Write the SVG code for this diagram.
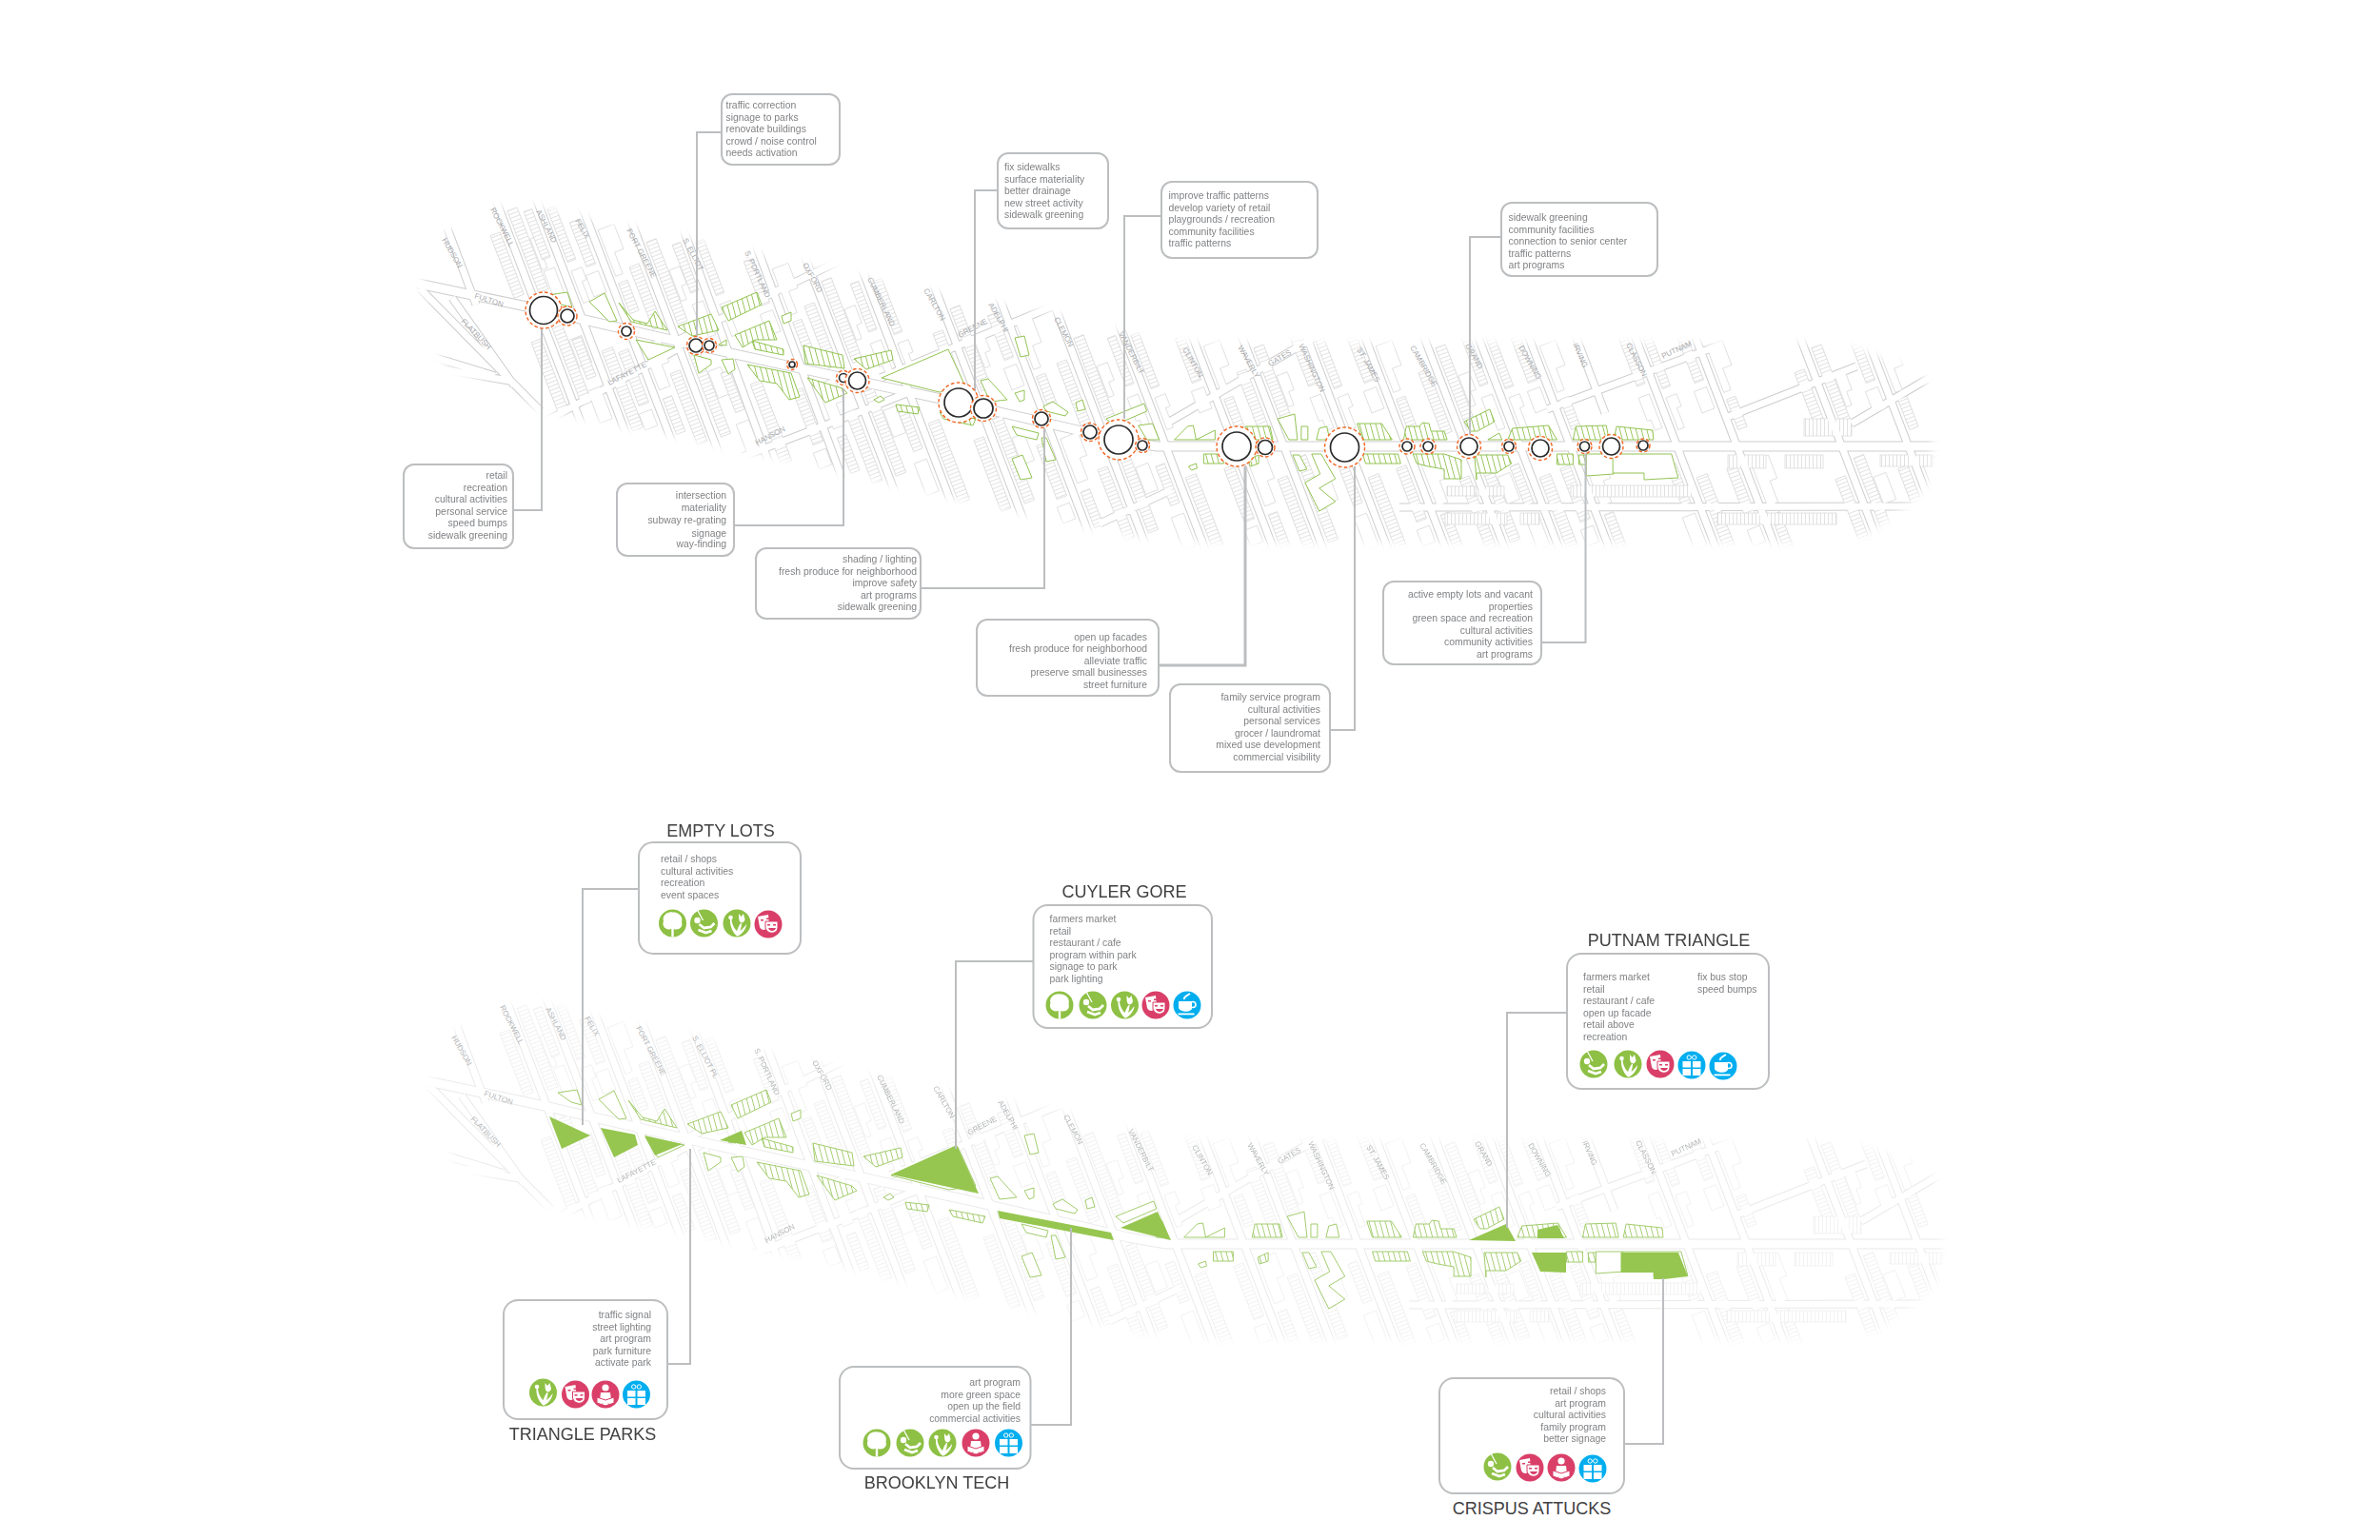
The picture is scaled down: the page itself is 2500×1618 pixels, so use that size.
<svg xmlns="http://www.w3.org/2000/svg" width="2500" height="1618" viewBox="0 0 2500 1618">
<style>
text{font-family:"Liberation Sans",Arial,sans-serif}
.t{font-size:10.4px;fill:#808285}
.e{text-anchor:end}
.h{font-size:18px;fill:#414042;text-anchor:middle}
.box{fill:#fff;stroke:#bcbec0;stroke-width:2}
.cn{fill:none;stroke:#bcbec0;stroke-width:2}
.ro{fill:#fff;stroke:#f26522;stroke-width:1.4;stroke-dasharray:3.6 2.4}
.ri{fill:#fff;stroke:#2b2b2b;stroke-width:1.7}
.sa{fill:none;stroke-linejoin:round;stroke-linecap:butt}
.gray1{stroke:#cdcdcd}.white1{stroke:#fff}
.rw{fill:url(#stripe);stroke:#d6d6d6;stroke-width:.7}
.rx{fill:url(#stripeV);stroke:#d6d6d6;stroke-width:.7}
.bl{fill:#fff;stroke:#d6d6d6;stroke-width:.7}
.gl{fill:#fff;stroke:#93c353;stroke-width:1}
.gs{fill:url(#gstripe);stroke:#93c353;stroke-width:1}
.gf{fill:#96c650;stroke:none}
.lb{font-size:8px;fill:#a7a9ac}
.lc{font-size:8px;fill:#b5b7b9}
.ig{fill:#8dc044}.ip{fill:#d93f68}.ib{fill:#00aeef}.w{fill:#fff}
</style>
<defs>
<pattern id="stripe" patternUnits="userSpaceOnUse" width="10" height="4"><rect width="10" height="4" fill="#fff"/><path d="M0 0H10" stroke="#d6d6d6" stroke-width="1.400"/></pattern>
<pattern id="stripeV" patternUnits="userSpaceOnUse" width="4" height="10"><rect width="4" height="10" fill="#fff"/><path d="M0 0V10" stroke="#d6d6d6" stroke-width="1.400"/></pattern>
<pattern id="gstripe" patternUnits="userSpaceOnUse" width="5.500" height="10" patternTransform="rotate(-15)"><rect width="5.500" height="10" fill="#fff"/><path d="M0 0V10" stroke="#93c353" stroke-width="1.800"/></pattern>
<filter id="soft" x="-5%" y="-10%" width="110%" height="120%"><feGaussianBlur stdDeviation="4"/></filter>
<mask id="leaf" maskUnits="userSpaceOnUse" x="400" y="180" width="1700" height="420"><polygon fill="#fff" filter="url(#soft)" points="441,303 466,243 517,218 563,215 645,235 716,248 767,260 859,280 961,302 1114,330 1150,342 1242,360 1929,360 2015,387 2030,417 2030,500 2010,527 1958,563 1900,570 1236,570 1156,557 1073,540 941,510 859,490 716,460 645,447 568,430 533,417 466,380"/></mask>
<g id="su1" transform="rotate(-21)">
<rect class="rw" x="7" y="-108" width="11" height="92"/><rect class="rw" x="-19" y="-90" width="11" height="70"/><rect class="rw" x="7" y="16" width="11" height="95"/><rect class="rw" x="-19" y="30" width="11" height="80"/>
<path class="bl" d="M19 -72h12v20h-6v15h-6z"/><path class="bl" d="M19 42h14v30h-14z"/>
</g>
<g id="su2" transform="rotate(-21)">
<rect class="rw" x="7" y="-122" width="9" height="60"/><rect class="rw" x="-17" y="-128" width="9" height="54"/><path class="bl" d="M-20 -62h12v38h-8v-12h-4z"/><path class="bl" d="M7 -52h12v14h-5v22h-7z"/>
<rect class="rw" x="7" y="38" width="12" height="90"/><rect class="rw" x="-18" y="16" width="10" height="44"/><path class="bl" d="M-22 72h14v36h-14z"/>
</g>
<g id="su3" transform="rotate(-21)">
<path class="bl" d="M7 -110h18v28h-10v24h-8z"/><path class="bl" d="M-22 -70h14v24h-14z"/><rect class="rw" x="-18" y="-128" width="10" height="50"/><rect class="rw" x="7" y="-50" width="10" height="34"/>
<path class="bl" d="M7 20h20v26h-8v24h-12z"/><rect class="rw" x="-19" y="18" width="11" height="60"/><rect class="rw" x="7" y="80" width="10" height="40"/><path class="bl" d="M-22 86h14v18h-14z"/>
</g>
<path id="fulton" d="M430 296L553 322L731 363L900 400L1007 423L1175 462L1215 469L2040 469"/>
<path id="streets" d="M517 200L662 580M560 200L705 580M605 200L750 580M651 200L794 580M703 200L842 580M773 200L913 580M819 200L964 580M874 200L1019 580M943 200L1088 580M1007 200L1151 580M1062 200L1206 580M1122 200L1267 580M1194 200L1339 580M1246 200L1391 580M1314 200L1459 580M1375 200L1520 580M1437 200L1582 580M1494 200L1639 580M1547 200L1692 580M1597 200L1686 434M1659 200L1804 580M1722 200L1867 580M1832 200L1977 580M1902 200L2047 580M560 450L711 367M711 358L815 306L880 275M925 397L1110 320L1180 290M780 480L910 430L955 412M1155 550L1230 515M1225 445L1385 352M1625 430L1800 365M1810 440L1950 385M1945 445L2030 395M1470 533L2010 532M441 303L568 432M475 313L540 405M470 240L500 320M455 375L520 395M464 388L535 400"/>
<g id="base" mask="url(#leaf)">
<use href="#streets" class="sa gray1" stroke-width="9"/>
<use href="#fulton" class="sa gray1" stroke-width="11"/>
<use href="#su1" transform="translate(565 325)"/><use href="#su2" transform="translate(612 336)"/><use href="#su3" transform="translate(661 347)"/><use href="#su1" transform="translate(711 358)"/><use href="#su2" transform="translate(768 371)"/><use href="#su3" transform="translate(844 388)"/><use href="#su1" transform="translate(895 399)"/><use href="#su2" transform="translate(955 412)"/><use href="#su1" transform="translate(1030 428)"/><use href="#su3" transform="translate(1100 445)"/><use href="#su1" transform="translate(1160 459)"/><use href="#su2" transform="translate(1225 469)"/><use href="#su3" transform="translate(1297 469)"/><use href="#su1" transform="translate(1349 469)"/><use href="#su2" transform="translate(1417 469)"/><use href="#su3" transform="translate(1478 469)"/><use href="#su1" transform="translate(1540 469)"/><use href="#su2" transform="translate(1597 469)"/><use href="#su3" transform="translate(1650 469)"/><use href="#su2" transform="translate(1762 469)"/><use href="#su3" transform="translate(1825 469)"/><use href="#su1" transform="translate(1935 469)"/><use href="#su3" transform="translate(2005 469)"/>
<rect class="rx" x="1520" y="511" width="30" height="10"/><rect class="rx" x="1553" y="511" width="27" height="10"/><rect class="rx" x="1518" y="539" width="65" height="12"/><rect class="rx" x="1597" y="539" width="20" height="12"/><rect class="rx" x="1804" y="539" width="125" height="12"/><rect class="rx" x="1650" y="510" width="130" height="12"/><rect class="rx" x="1815" y="478" width="40" height="14"/><rect class="rx" x="1875" y="478" width="40" height="14"/><rect class="rx" x="1975" y="478" width="55" height="12"/><rect class="rx" x="1895" y="440" width="50" height="18"/>
<use href="#streets" class="sa white1" stroke-width="7"/>
<use href="#fulton" class="sa white1" stroke-width="9"/>
</g>
<g id="greens">
<polygon class="gl" points="576,310 596,307 601,323 590,320"/><polygon class="gl" points="619,317 635,308 648,337 640,338"/><polygon class="gs" points="650,318 663,338 701,347 688,327 680,340 665,336"/><polygon class="gs" points="712,343 747,330 755,347 727,353"/><polygon class="gs" points="758,323 795,307 800,320 765,337"/><polygon class="gl" points="668,357 709,365 681,378"/><polygon class="gl" points="755,362 763,357 763,363"/><polygon class="gs" points="772,352 808,337 816,357 793,357 780,365"/><polygon class="gs" points="790,358 823,367 823,373 793,367"/><polygon class="gl" points="821,332 831,328 831,337 823,340"/><polygon class="gs" points="844,363 885,373 887,387 846,382"/><polygon class="gs" points="897,377 936,368 938,378 910,388"/><polygon class="gl" points="926,397 996,367 1015,408 987,412"/><polygon class="gl" points="729,373 747,378 747,383 734,392"/><polygon class="gl" points="758,378 770,377 772,388 765,393"/><polygon class="gs" points="785,383 831,392 840,417 829,420 816,403 798,400"/><polygon class="gs" points="848,397 885,408 890,413 867,423"/><polygon class="gl" points="918,420 925,416 929,420 923,423"/><polygon class="gs" points="941,425 966,428 964,435 943,432"/><polygon class="gs" points="987,433 1025,440 1022,447 991,440"/><polygon class="gl" points="1030,400 1038,398 1058,420 1040,422"/><polygon class="gl" points="1066,355 1076,353 1081,373 1072,375"/><polygon class="gl" points="1066,413 1076,410 1076,420 1071,422"/><polygon class="gl" points="1096,427 1106,422 1122,433 1119,437 1099,432"/><polygon class="gl" points="1130,423 1137,420 1140,430 1132,432"/><polygon class="gl" points="1063,448 1091,455 1089,462 1068,457"/><polygon class="gl" points="1094,460 1099,460 1109,483 1099,485"/><polygon class="gl" points="1063,482 1074,478 1084,502 1072,504"/>
<g transform="translate(1150 0) scale(.9948 1) translate(-1150 0)">
<polygon class="gl" points="1162,440 1202,424 1205,432 1170,447"/><polygon class="gl" points="1196,447 1211,445 1218,462 1205,462"/><polygon class="gl" points="1234,462 1248,448 1254,447 1257,462 1277,452 1277,462"/><polygon class="gs" points="1309,448 1335,448 1338,462 1306,462"/><polygon class="gl" points="1343,440 1361,435 1364,462 1355,462"/><polygon class="gl" points="1368,448 1375,448 1375,462 1368,462"/><polygon class="gl" points="1384,462 1387,450 1395,448 1398,462"/><polygon class="gs" points="1427,445 1453,445 1464,462 1433,462"/><polygon class="gs" points="1476,462 1479,448 1493,448 1496,444 1503,445 1505,453 1519,453 1522,462"/><polygon class="gs" points="1540,443 1567,430 1572,443 1554,453 1547,453"/><polygon class="gl" points="1565,462 1577,455 1580,462"/><polygon class="gs" points="1586,462 1591,450 1629,447 1638,462"/><polygon class="gs" points="1655,462 1658,448 1690,447 1693,462"/><polygon class="gs" points="1698,462 1701,448 1739,452 1740,462"/><polygon class="gs" points="1265,477 1286,477 1286,487 1265,487"/><polygon class="gl" points="1249,490 1257,487 1258,492 1252,494"/><polygon class="gs" points="1312,483 1323,478 1323,487 1314,490"/><polygon class="gl" points="1359,478 1366,478 1374,493 1366,495"/><polygon class="gl" points="1379,477 1389,477 1404,503 1387,513 1404,527 1387,537 1372,507 1388,498"/><polygon class="gs" points="1433,477 1470,477 1473,487 1436,487"/><polygon class="gs" points="1486,477 1519,477 1537,483 1537,503 1519,503 1519,493 1502,490 1490,487"/><polygon class="gs" points="1551,478 1586,478 1590,487 1574,497 1553,497 1553,504"/><polygon class="gs" points="1638,477 1655,477 1655,488 1638,488"/><polygon class="gs" points="1661,478 1669,478 1669,488 1661,488"/><polygon class="gl" points="1669,500 1669,477 1698,477 1698,498"/><polygon class="gl" points="1697,477 1759,477 1766,502 1730,504 1730,497 1697,497"/>
</g>
</g>
<g id="tree"><circle r="14.500" class="ig"/><path class="w" d="M-1.200 14.500V6C-8 8-11.500 2-9.500-2C-11.500-8-5-12.500 0-11.500C6-12.500 11.500-7 9.500-1C11.500 4 6 8 1.200 6V14.500Z"/></g>
<g id="swing"><circle r="14.500" class="ig"/><path d="M-7-14L-1-3" stroke="#fff" stroke-width="1.300"/><circle class="w" cx="-7" cy="-3" r="3.200"/><path d="M-5 1L0 5L7 4L11 0M-6 7L2 10L8 8" fill="none" stroke="#fff" stroke-width="2.800"/></g>
<g id="tulip"><circle r="14.500" class="ig"/><path class="w" d="M2-10L4.500-7L7-10L8.500-4C8-1 5 0 4-1C2-2 2-6 2-10Z"/><circle class="w" cx="-6.500" cy="-6" r="2.300"/><path class="w" d="M0 13.500C-5 9-7.500 2-7-4L-5.500-4C-5 2-2 6 0 8C1 5 2 3 4 0L5 0C5 2 4.500 5 3.500 8C5 7 8 4 10 1C10 6 5 12 1 13.500Z"/></g>
<g id="masks"><circle r="14.500" class="ip"/><path class="w" d="M-11-8L0-10L1 1C0 6-7 8-9 3Z"/><path class="w" d="M-3-3L10-3L10 4C9 11-1 11-3 4Z" stroke="#d93f68"/><path class="ip" d="M-8-5h3v1.500h-3zM-2-6.500h3v1.500h-3zM-1 0h3v1.500h-3zM5 0h3v1.500h-3zM0 4H8C7 8 1 8 0 4Z"/></g>
<g id="reader"><circle r="14.500" class="ip"/><circle class="w" cy="-7" r="3.600"/><path class="w" d="M-5-2H5L6 6H-6Z"/><path class="w" d="M-9 3L0 6L9 3V9L0 12L-9 9Z" stroke="#d93f68"/><path d="M-6 12.500L-3 9.500M6 12.500L3 9.500" stroke="#d93f68"/></g>
<g id="gift"><circle r="14.500" class="ib"/><path class="w" d="M-9.500-4H-1V2.500H-9.500ZM1-4H9.500V2.500H1ZM-9.500 4H-1V11H-9.500ZM1 4H9.500V11H1Z"/><circle cx="-2.800" cy="-8" r="2.200" fill="none" stroke="#fff"/><circle cx="2.800" cy="-8" r="2.200" fill="none" stroke="#fff"/></g>
<g id="cup"><circle r="14.500" class="ib"/><path class="w" d="M-9-4H5V3C5 8-7 8-9 3Z"/><circle cx="6" cy="-.5" r="3" fill="none" stroke="#fff" stroke-width="1.600"/><rect class="w" x="-9.500" y="8.500" width="17" height="1.800"/><path d="M-3-6C-4-9 0-10 3-12" fill="none" stroke="#fff" stroke-width="1.800"/></g>
</defs>

<g id="map-top">
<use href="#base"/>
<use href="#greens"/>
<g class="lb">
<text transform="translate(464 252) rotate(60)">HUDSON</text><text transform="translate(515 220) rotate(63)">ROCKWELL</text><text transform="translate(563 222) rotate(63)">ASHLAND</text><text transform="translate(604 232) rotate(60)">FELIX</text><text transform="translate(658 242) rotate(62)">FORT GREENE</text><text transform="translate(717 252) rotate(62)">S. ELLIOT</text><text transform="translate(782 265) rotate(65)">S. PORTLAND</text><text transform="translate(843 278) rotate(61)">OXFORD</text><text transform="translate(911 293) rotate(64)">CUMBERLAND</text><text transform="translate(970 305) rotate(60)">CARLTON</text><text transform="translate(1038 320) rotate(60)">ADELPHI</text><text transform="translate(1107 335) rotate(62)">CLEMON</text><text transform="translate(1175 350) rotate(63)">VANDERBILT</text><text transform="translate(1242 367) rotate(60)">CLINTON</text><text transform="translate(1300 365) rotate(60)">WAVERLY</text><text transform="translate(1334 385) rotate(-30)">GATES</text><text transform="translate(1364 363) rotate(65)">WASHINGTON</text><text transform="translate(1425 367) rotate(60)">ST. JAMES</text><text transform="translate(1481 365) rotate(60)">CAMBRIDGE</text><text transform="translate(1539 363) rotate(60)">GRAND</text><text transform="translate(1595 365) rotate(60)">DOWNING</text><text transform="translate(1652 362) rotate(66)">IRVING</text><text transform="translate(1708 362) rotate(63)">CLASSON</text><text transform="translate(1747 377) rotate(-25)">PUTNAM</text><text transform="translate(1008 355) rotate(-28)">GREENE</text><text transform="translate(498 313) rotate(18)">FULTON</text><text transform="translate(484 338) rotate(46)">FLATBUSH</text><text transform="translate(640 405) rotate(-27)">LAFAYETTE</text><text transform="translate(795 468) rotate(-27)">HANSON</text>
</g>
</g>

<g id="map-bottom">
<use href="#base" transform="translate(10 838)" opacity=".42"/>
<use href="#greens" transform="translate(10 838)" opacity=".85"/>
<g id="sites">
<polygon class="gf" points="577,1173 620,1193 590,1207"/><polygon class="gf" points="631,1185 667,1192 670,1203 645,1216"/><polygon class="gf" points="677,1193 717,1202 688,1214"/><polygon class="gf" points="756,1198 779,1188 784,1203"/><polygon class="gf" points="936,1234 1005,1203 1028,1254"/><polygon class="gf" points="1048,1272 1167,1295 1170,1303 1050,1280"/><polygon class="gf" points="1177,1290 1216,1273 1230,1303"/><polygon class="gf" points="1543,1303 1582,1286 1592,1304"/><polygon class="gf" points="1615,1301 1615,1292 1636,1287 1643,1301"/><polygon class="gf" points="1609,1316 1645,1316 1645,1337 1618,1336"/><polygon class="gf" points="1702.500,1316 1763,1316 1773,1341 1748,1344 1737,1344 1737,1337 1702.500,1337"/>
</g>
<g class="lc">
<text transform="translate(474 1090) rotate(60)">HUDSON</text><text transform="translate(525 1058) rotate(63)">ROCKWELL</text><text transform="translate(573 1060) rotate(63)">ASHLAND</text><text transform="translate(614 1070) rotate(60)">FELIX</text><text transform="translate(668 1080) rotate(62)">FORT GREENE</text><text transform="translate(727 1090) rotate(62)">S. ELLIOT PL</text><text transform="translate(792 1103) rotate(65)">S. PORTLAND</text><text transform="translate(853 1116) rotate(61)">OXFORD</text><text transform="translate(921 1131) rotate(64)">CUMBERLAND</text><text transform="translate(980 1143) rotate(60)">CARLTON</text><text transform="translate(1048 1158) rotate(60)">ADELPHI</text><text transform="translate(1117 1173) rotate(62)">CLEMON</text><text transform="translate(1185 1188) rotate(63)">VANDERBILT</text><text transform="translate(1252 1205) rotate(60)">CLINTON</text><text transform="translate(1310 1203) rotate(60)">WAVERLY</text><text transform="translate(1344 1223) rotate(-30)">GATES</text><text transform="translate(1374 1201) rotate(65)">WASHINGTON</text><text transform="translate(1435 1205) rotate(60)">ST. JAMES</text><text transform="translate(1491 1203) rotate(60)">CAMBRIDGE</text><text transform="translate(1549 1201) rotate(60)">GRAND</text><text transform="translate(1605 1203) rotate(60)">DOWNING</text><text transform="translate(1662 1200) rotate(66)">IRVING</text><text transform="translate(1718 1200) rotate(63)">CLASSON</text><text transform="translate(1757 1215) rotate(-25)">PUTNAM</text><text transform="translate(1018 1193) rotate(-28)">GREENE</text><text transform="translate(508 1151) rotate(18)">FULTON</text><text transform="translate(494 1176) rotate(46)">FLATBUSH</text><text transform="translate(650 1243) rotate(-27)">LAFAYETTE</text><text transform="translate(805 1306) rotate(-27)">HANSON</text>
</g>
</g>

<g id="connectors">
<path class="cn" d="M758 139H732V360"/><path class="cn" d="M1048 200H1024V413"/><path class="cn" d="M539 536H569V343"/><path class="cn" d="M771 552H886V408"/><path class="cn" d="M967 618H1097V450"/><path class="cn" style="stroke-width:3" d="M1217 699H1308V490"/><path class="cn" d="M1397 767H1423V490"/><path class="cn" d="M1619 675H1665.500V475"/><path class="cn" d="M1220 227H1181V440"/><path class="cn" d="M1577 249H1544V457"/>
<path class="cn" d="M671 934H612V1182"/><path class="cn" d="M1085 1010H1004V1207"/><path class="cn" d="M1646 1064H1583V1290"/><path class="cn" d="M701 1433H725V1207"/><path class="cn" d="M1082 1497H1125V1290"/><path class="cn" d="M1706 1517H1747V1343"/>
</g>

<g id="spots">
<g id="s1"><circle class="ro" cx="571" cy="326" r="19"/><circle class="ri" cx="571" cy="326" r="14.500"/></g>
<g id="s2"><circle class="ro" cx="596" cy="332" r="10"/><circle class="ri" cx="596" cy="332" r="7"/></g>
<g id="s3"><circle class="ro" cx="658" cy="348" r="8.500"/><circle class="ri" cx="658" cy="348" r="5"/></g>
<g id="s4"><circle class="ro" cx="731" cy="363" r="9.500"/><circle class="ri" cx="731" cy="363" r="7"/></g>
<g id="s5"><circle class="ro" cx="745" cy="363" r="7.500"/><circle class="ri" cx="745" cy="363" r="5"/></g>
<g id="s6"><circle class="ro" cx="832" cy="383" r="5.500"/><circle class="ri" cx="832" cy="383" r="3"/></g>
<g id="s7"><circle class="ro" cx="886" cy="397" r="7.500"/><circle class="ri" cx="886" cy="397" r="4.500"/></g>
<g id="s8"><circle class="ro" cx="900.500" cy="400" r="12.500"/><circle class="ri" cx="900.500" cy="400" r="9"/></g>
<g id="s9"><circle class="ro" cx="1007" cy="423" r="21"/><circle class="ri" cx="1007" cy="423" r="15"/></g>
<g id="s10"><circle class="ro" cx="1033" cy="429" r="13.500"/><circle class="ri" cx="1033" cy="429" r="10"/></g>
<g id="s11"><circle class="ro" cx="1094" cy="440" r="9.500"/><circle class="ri" cx="1094" cy="440" r="7"/></g>
<g id="s12"><circle class="ro" cx="1145" cy="454" r="9.500"/><circle class="ri" cx="1145" cy="454" r="7"/></g>
<g id="s13"><circle class="ro" cx="1175" cy="462" r="21"/><circle class="ri" cx="1175" cy="462" r="15"/></g>
<g id="s14"><circle class="ro" cx="1200" cy="468" r="7.500"/><circle class="ri" cx="1200" cy="468" r="5"/></g>
<g id="s15"><circle class="ro" cx="1299" cy="469" r="21"/><circle class="ri" cx="1299" cy="469" r="15"/></g>
<g id="s16"><circle class="ro" cx="1329" cy="470" r="10"/><circle class="ri" cx="1329" cy="470" r="7.500"/></g>
<g id="s17"><circle class="ro" cx="1412.500" cy="470" r="21"/><circle class="ri" cx="1412.500" cy="470" r="15"/></g>
<g id="s18"><circle class="ro" cx="1478" cy="469" r="8"/><circle class="ri" cx="1478" cy="469" r="5"/></g>
<g id="s19"><circle class="ro" cx="1500" cy="469" r="8"/><circle class="ri" cx="1500" cy="469" r="5"/></g>
<g id="s20"><circle class="ro" cx="1543" cy="469" r="12.500"/><circle class="ri" cx="1543" cy="469" r="9"/></g>
<g id="s21"><circle class="ro" cx="1585" cy="469" r="7.500"/><circle class="ri" cx="1585" cy="469" r="5"/></g>
<g id="s22"><circle class="ro" cx="1618" cy="471" r="12.500"/><circle class="ri" cx="1618" cy="471" r="9"/></g>
<g id="s23"><circle class="ro" cx="1664.500" cy="469" r="7.500"/><circle class="ri" cx="1664.500" cy="469" r="5"/></g>
<g id="s24"><circle class="ro" cx="1692.500" cy="469" r="12.500"/><circle class="ri" cx="1692.500" cy="469" r="9"/></g>
<g id="s25"><circle class="ro" cx="1726" cy="468" r="7"/><circle class="ri" cx="1726" cy="468" r="5"/></g>
</g>

<g id="n-traffic"><rect class="box" x="758" y="99" width="124" height="74" rx="11"/><text class="t"><tspan x="762.500" y="114">traffic correction</tspan><tspan x="762.500" y="126.500">signage to parks</tspan><tspan x="762.500" y="139">renovate buildings</tspan><tspan x="762.500" y="151.500">crowd / noise control</tspan><tspan x="762.500" y="164">needs activation</tspan></text></g>
<g id="n-sidewalks"><rect class="box" x="1048" y="161" width="116" height="79" rx="11"/><text class="t"><tspan x="1055" y="179">fix sidewalks</tspan><tspan x="1055" y="191.500">surface materiality</tspan><tspan x="1055" y="204">better drainage</tspan><tspan x="1055" y="216.500">new street activity</tspan><tspan x="1055" y="229">sidewalk greening</tspan></text></g>
<g id="n-improve"><rect class="box" x="1220" y="191" width="164" height="80" rx="11"/><text class="t"><tspan x="1227.500" y="209">improve traffic patterns</tspan><tspan x="1227.500" y="221.500">develop variety of retail</tspan><tspan x="1227.500" y="234">playgrounds / recreation</tspan><tspan x="1227.500" y="246.500">community facilities</tspan><tspan x="1227.500" y="259">traffic patterns</tspan></text></g>
<g id="n-greening"><rect class="box" x="1577" y="213" width="164" height="77" rx="11"/><text class="t"><tspan x="1584.500" y="232">sidewalk greening</tspan><tspan x="1584.500" y="244.500">community facilities</tspan><tspan x="1584.500" y="257">connection to senior center</tspan><tspan x="1584.500" y="269.500">traffic patterns</tspan><tspan x="1584.500" y="282">art programs</tspan></text></g>
<g id="n-retail"><rect class="box" x="424" y="488" width="115" height="88" rx="11"/><text class="t e"><tspan x="533" y="503">retail</tspan><tspan x="533" y="515.500">recreation</tspan><tspan x="533" y="528">cultural activities</tspan><tspan x="533" y="540.500">personal service</tspan><tspan x="533" y="553">speed bumps</tspan><tspan x="533" y="565.500">sidewalk greening</tspan></text></g>
<g id="n-intersection"><rect class="box" x="648" y="508" width="123" height="76" rx="11"/><text class="t e"><tspan x="763" y="524">intersection</tspan><tspan x="763" y="537">materiality</tspan><tspan x="763" y="550">subway re-grating</tspan><tspan x="763" y="564">signage</tspan><tspan x="763" y="575">way-finding</tspan></text></g>
<g id="n-shading"><rect class="box" x="794" y="576" width="173" height="74" rx="11"/><text class="t e"><tspan x="963" y="591">shading / lighting</tspan><tspan x="963" y="604">fresh produce for neighborhood</tspan><tspan x="963" y="616">improve safety</tspan><tspan x="963" y="629">art programs</tspan><tspan x="963" y="641">sidewalk greening</tspan></text></g>
<g id="n-facades"><rect class="box" x="1026" y="651" width="191" height="80" rx="11"/><text class="t e"><tspan x="1205" y="673">open up facades</tspan><tspan x="1205" y="685">fresh produce for neighborhood</tspan><tspan x="1205" y="698">alleviate traffic</tspan><tspan x="1205" y="710">preserve small businesses</tspan><tspan x="1205" y="723">street furniture</tspan></text></g>
<g id="n-family"><rect class="box" x="1229" y="719" width="168" height="92" rx="11"/><text class="t e"><tspan x="1387" y="736">family service program</tspan><tspan x="1387" y="749">cultural activities</tspan><tspan x="1387" y="761">personal services</tspan><tspan x="1387" y="774">grocer / laundromat</tspan><tspan x="1387" y="786">mixed use development</tspan><tspan x="1387" y="799">commercial visibility</tspan></text></g>
<g id="n-active"><rect class="box" x="1453" y="611" width="166" height="87" rx="11"/><text class="t e"><tspan x="1610" y="628">active empty lots and vacant</tspan><tspan x="1610" y="641">properties</tspan><tspan x="1610" y="653">green space and recreation</tspan><tspan x="1610" y="666">cultural activities</tspan><tspan x="1610" y="678">community activities</tspan><tspan x="1610" y="691">art programs</tspan></text></g>

<g id="n-empty-lots"><text class="h" x="757" y="879">EMPTY LOTS</text><rect class="box" x="671" y="885" width="170" height="117" rx="15"/><text class="t"><tspan x="694" y="906">retail / shops</tspan><tspan x="694" y="918.500">cultural activities</tspan><tspan x="694" y="931">recreation</tspan><tspan x="694" y="943.500">event spaces</tspan></text><use href="#tree" x="706.500" y="970"/><use href="#swing" x="739.500" y="970"/><use href="#tulip" x="774" y="970"/><use href="#masks" x="807" y="971"/></g>
<g id="n-cuyler"><text class="h" x="1181" y="943">CUYLER GORE</text><rect class="box" x="1085.500" y="951" width="187.500" height="129" rx="15"/><text class="t"><tspan x="1102.500" y="969">farmers market</tspan><tspan x="1102.500" y="981.500">retail</tspan><tspan x="1102.500" y="994">restaurant / cafe</tspan><tspan x="1102.500" y="1006.500">program within park</tspan><tspan x="1102.500" y="1019">signage to park</tspan><tspan x="1102.500" y="1031.500">park lighting</tspan></text><use href="#tree" x="1113" y="1056"/><use href="#swing" x="1148" y="1056"/><use href="#tulip" x="1181.500" y="1056"/><use href="#masks" x="1214" y="1056"/><use href="#cup" x="1247" y="1056"/></g>
<g id="n-putnam"><text class="h" x="1753" y="994">PUTNAM TRIANGLE</text><rect class="box" x="1646" y="1002" width="212" height="142" rx="15"/><text class="t"><tspan x="1663" y="1030">farmers market</tspan><tspan x="1663" y="1042.500">retail</tspan><tspan x="1663" y="1055">restaurant / cafe</tspan><tspan x="1663" y="1067.500">open up facade</tspan><tspan x="1663" y="1080">retail above</tspan><tspan x="1663" y="1092.500">recreation</tspan><tspan x="1783" y="1030">fix bus stop</tspan><tspan x="1783" y="1042.500">speed bumps</tspan></text><use href="#swing" x="1674" y="1118"/><use href="#tulip" x="1710" y="1118"/><use href="#masks" x="1744" y="1118"/><use href="#gift" x="1777" y="1119"/><use href="#cup" x="1810" y="1120"/></g>
<g id="n-triangle"><rect class="box" x="529" y="1366" width="172" height="125" rx="15"/><text class="t e"><tspan x="684" y="1385">traffic signal</tspan><tspan x="684" y="1397.500">street lighting</tspan><tspan x="684" y="1410">art program</tspan><tspan x="684" y="1422.500">park furniture</tspan><tspan x="684" y="1435">activate park</tspan></text><use href="#tulip" x="570.500" y="1463"/><use href="#masks" x="604.500" y="1465"/><use href="#reader" x="636" y="1465"/><use href="#gift" x="668.500" y="1465"/><text class="h" x="612" y="1513">TRIANGLE PARKS</text></g>
<g id="n-tech"><rect class="box" x="882" y="1436" width="200.500" height="107" rx="15"/><text class="t e"><tspan x="1072" y="1456">art program</tspan><tspan x="1072" y="1468.500">more green space</tspan><tspan x="1072" y="1481">open up the field</tspan><tspan x="1072" y="1493.500">commercial activities</tspan></text><use href="#tree" x="921" y="1516"/><use href="#swing" x="956" y="1516"/><use href="#tulip" x="990" y="1516"/><use href="#reader" x="1025" y="1516"/><use href="#gift" x="1059.500" y="1516"/><text class="h" x="984" y="1564">BROOKLYN TECH</text></g>
<g id="n-crispus"><rect class="box" x="1512" y="1448" width="194" height="121" rx="15"/><text class="t e"><tspan x="1687" y="1465">retail / shops</tspan><tspan x="1687" y="1477.500">art program</tspan><tspan x="1687" y="1490">cultural activities</tspan><tspan x="1687" y="1502.500">family program</tspan><tspan x="1687" y="1515">better signage</tspan></text><use href="#swing" x="1573" y="1541"/><use href="#masks" x="1607" y="1542"/><use href="#reader" x="1640" y="1542"/><use href="#gift" x="1673" y="1543"/><text class="h" x="1609" y="1591">CRISPUS ATTUCKS</text></g>
</svg>
